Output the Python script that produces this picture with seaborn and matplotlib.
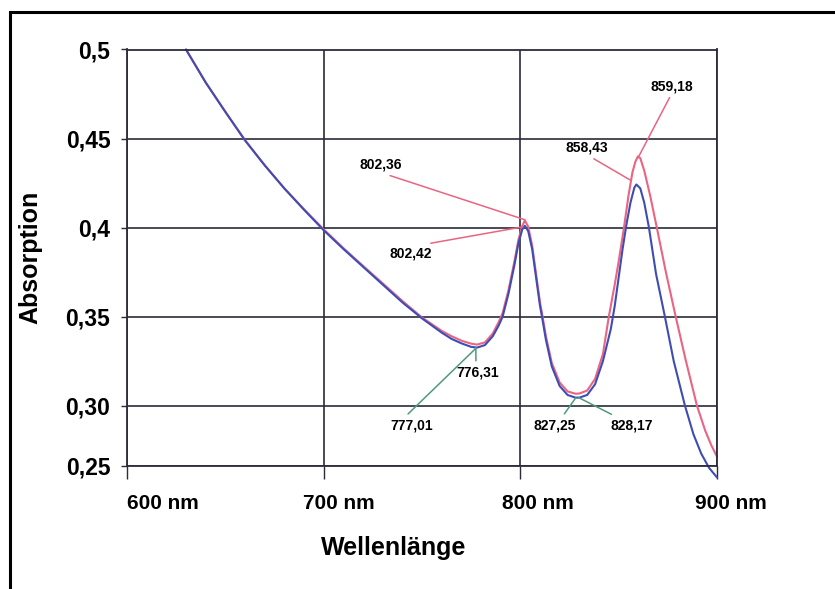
import matplotlib
matplotlib.use("Agg")
import matplotlib.pyplot as plt
import matplotlib.patches as mpatches
from matplotlib.transforms import ScaledTranslation
import seaborn as sns
import pandas as pd

# ---- data ----
wl_blue = [630, 640, 650, 660, 670, 680, 690, 700, 710, 720, 730, 740, 750, 760, 765, 770, 775,
           778, 782, 786, 789, 791, 794, 797, 799, 801, 802.3, 804, 806, 808, 810, 811, 813, 816, 820,
           824, 828, 830, 834, 838, 842, 846, 848, 850, 852, 854, 856, 858, 859, 861, 863, 865.4, 869,
           873.5, 878, 883.7, 888, 892, 896, 900]
abs_blue = [0.500, 0.4815, 0.465, 0.449, 0.435, 0.422, 0.410, 0.3985, 0.388, 0.378, 0.368, 0.358,
            0.349, 0.341, 0.3375, 0.335, 0.333, 0.3326, 0.334, 0.339, 0.345, 0.350, 0.363, 0.379, 0.391,
            0.399, 0.401, 0.398, 0.388, 0.372, 0.356, 0.350, 0.337, 0.322, 0.311, 0.306, 0.3045, 0.3045,
            0.306, 0.312, 0.325, 0.343, 0.356, 0.372, 0.388, 0.402, 0.414, 0.4225, 0.4242, 0.422, 0.414,
            0.400, 0.374, 0.350, 0.325, 0.300, 0.284, 0.273, 0.265, 0.2597]

wl_pink = [630, 640, 650, 660, 670, 680, 690, 700, 710, 720, 730, 740, 750, 760, 765, 770, 775,
           778, 782, 786, 789, 791, 794, 797, 799, 801, 802.3, 804, 806, 808, 810, 811, 813, 816, 820,
           824, 828, 830, 834, 838, 842, 845, 848, 850, 852.7, 855, 857, 858.5, 859.8, 861, 863, 866,
           869.4, 874, 879, 884, 889.8, 894, 897, 900]
abs_pink = [0.500, 0.4815, 0.465, 0.449, 0.435, 0.422, 0.4103, 0.399, 0.3885, 0.3785, 0.3687,
            0.3588, 0.3495, 0.342, 0.339, 0.3365, 0.3348, 0.3343, 0.3355, 0.3405, 0.347, 0.352, 0.365,
            0.381, 0.393, 0.401, 0.404, 0.4005, 0.390, 0.374, 0.358, 0.352, 0.339, 0.324, 0.313, 0.308,
            0.3067, 0.3068, 0.3085, 0.315, 0.329, 0.350, 0.368, 0.381, 0.400, 0.418, 0.431, 0.437, 0.440,
            0.439, 0.432, 0.418, 0.400, 0.375, 0.350, 0.326, 0.300, 0.286, 0.278, 0.2713]

x_ticks = [600, 700, 800, 900]
x_ticklabels = ["600 nm", "700 nm", "800 nm", "900 nm"]
y_ticklabels = ["0,25", "0,30", "0,35", "0,4", "0,45", "0,5"]
y_ticks_upper = [0.30, 0.35, 0.40, 0.45, 0.50]

# annotations: label, point (x, y), text position (x, y), colour key
ann_labels = ["802,36", "802,42", "859,18", "858,43", "776,31", "777,01", "827,25", "828,17"]
ann_xy = [(802.3, 0.4044), (801.3, 0.4004), (859.8, 0.4391), (855.7, 0.4268),
          (777.4, 0.3326), (777.4, 0.3322), (828.3, 0.3046), (829.5, 0.3046)]
ann_text = [(729.1, 0.4352), (744.4, 0.3853), (877.1, 0.4795), (833.9, 0.4448),
            (778.5, 0.3186), (745.0, 0.2890), (817.6, 0.2890), (856.7, 0.2890)]
ann_color = ["pink", "pink", "pink", "pink", "green", "green", "green", "green"]

# ---- styling / layout ----
ann_rel = [(0.45, 0.0), (0.5, 1.0), (0.5, 0.0), (0.5, 0.0), (0.45, 1.0), (0.3, 1.0), (0.65, 1.0), (0.2, 1.0)]
x_label_shift_px = [36, 15, 18, 14]
y_axis_bottom = 0.2661   # the lowest gridline of the original is drawn closer than 0.05 below 0,30

colors = {"blue": "#3f4db3", "pink": "#ea6483", "green": "#4f9a7c"}
grid_col = "#2b2b3b"

df = pd.concat([
    pd.DataFrame({"wl": wl_blue, "A": abs_blue, "s": "blue"}),
    pd.DataFrame({"wl": wl_pink, "A": abs_pink, "s": "pink"}),
])

sns.set_theme(style="white")
plt.rcParams["font.family"] = ["Liberation Sans", "DejaVu Sans"]
plt.rcParams["text.color"] = "black"
plt.rcParams["axes.labelcolor"] = "black"
plt.rcParams["xtick.labelcolor"] = "black"
plt.rcParams["ytick.labelcolor"] = "black"

fig = plt.figure(figsize=(8.35, 5.89), dpi=100)
ax = fig.add_axes([127 / 835, 1 - 466 / 589, (717 - 127) / 835, (466 - 49.5) / 589])

sns.lineplot(data=df, x="wl", y="A", hue="s", palette={"blue": colors["blue"], "pink": colors["pink"]},
             hue_order=["pink", "blue"], linewidth=1.5, legend=False, ax=ax, sort=False)
for ln in ax.lines:
    ln.set_clip_on(False)

ax.set_xlim(600, 900)
ax.set_ylim(y_axis_bottom, 0.50)
ax.set_xticks(x_ticks)
ax.set_xticklabels(x_ticklabels, fontsize=15, fontweight="bold", color="black")
ax.set_yticks([y_axis_bottom] + y_ticks_upper)
ax.set_yticklabels(y_ticklabels, fontsize=16.5, fontweight="bold", color="black")
ax.tick_params(axis="x", direction="out", length=9, width=1, color=grid_col, pad=11, bottom=True)
ax.tick_params(axis="y", direction="out", length=4, width=1, color=grid_col, pad=8, left=True)
fig.canvas.draw()
for lab, sh in zip(ax.get_xticklabels(), x_label_shift_px):
    lab.set_transform(lab.get_transform() + ScaledTranslation(sh / 100, 0, fig.dpi_scale_trans))

ax.grid(True, color=grid_col, linewidth=1.2)
for sp in ax.spines.values():
    sp.set_color(grid_col)
    sp.set_linewidth(1.3)

ax.set_xlabel("Wellenlänge", fontsize=18, fontweight="bold", color="black")
ax.xaxis.set_label_coords((394 - 127) / 590, -(536 - 466) / 416.5)
ax.set_ylabel("Absorption", fontsize=18, fontweight="bold", color="black")
ax.yaxis.set_label_coords((42 - 127) / 590, 0.5)

for lab, xy, xt, ck, rp in zip(ann_labels, ann_xy, ann_text, ann_color, ann_rel):
    ax.annotate(lab, xy=xy, xytext=xt, ha="center", va="center", fontsize=10, fontweight="bold",
                color="black",
                arrowprops=dict(arrowstyle="-", color=colors[ck], lw=1.1, shrinkA=1, shrinkB=0,
                                relpos=rp))

# outer frame
frame = mpatches.Rectangle((10 / 835, -0.2), 1.5, 1.2 - 11.5 / 589, transform=fig.transFigure,
                           fill=False, edgecolor="black", linewidth=2.2, clip_on=False)
fig.add_artist(frame)

fig.savefig("out.png", dpi=100, facecolor="white")
